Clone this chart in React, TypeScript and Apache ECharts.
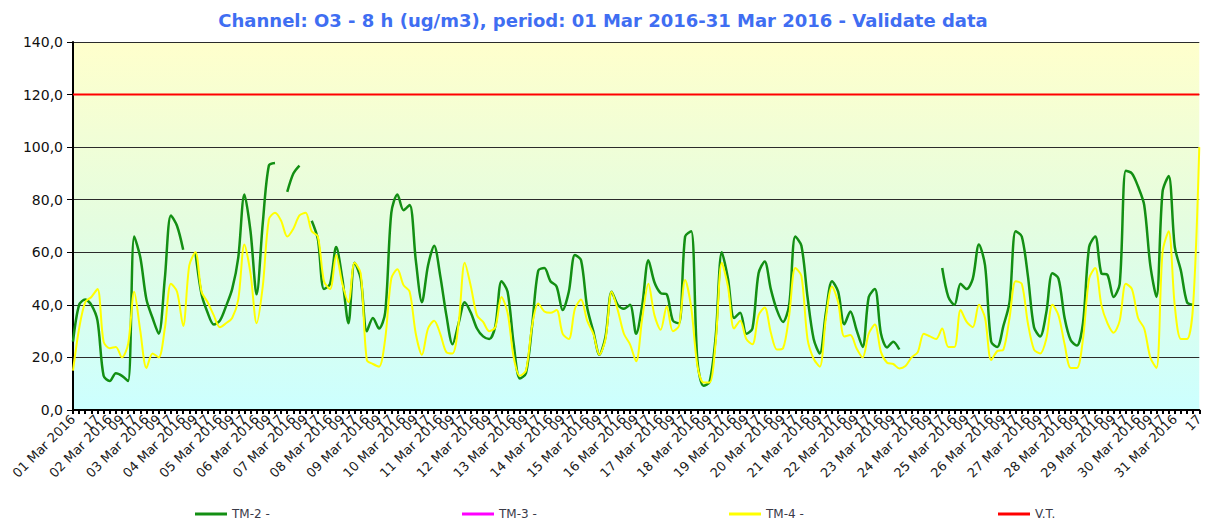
import React, { useEffect, useRef } from "react";
import * as echarts from "echarts";

// Day labels (one per day, every third tick), then the two intra-day hours
const dayNumbers = ["01","02","03","04","05","06","07","08","09","10","11","12","13","14","15","16","17","18","19","20","21","22","23","24","25","26","27","28","29","30","31"];
const monthYear = "Mar 2016";
const hourLabels = ["09", "17"];

// y axis ticks
const yTicks = [0, 20, 40, 60, 80, 100, 120, 140];

// Values sampled every 4 hours (two samples per 8h tick slot), starting at the first tick
const tm2Values: (number | null)[] = [
  26, 40, 42, 40, 34, 13, 11, 14, 13, 11,
  66, 58, 42, 35, 29, 50, 74, 70, 61, null,
  60, 44, 37, 32.5, 34, 39.5, 46, 58, 82, 68,
  44, 71, 93, 94, null, 83, 90, 93, null, 72,
  65, 46, 48, 62, 50, 33, 56, 50, 30, 35,
  31, 37, 75, 82, 76, 78, 57, 41, 55, 62.5,
  51, 36, 25, 33, 41, 37, 31, 28, 27, 32,
  49, 45, 25, 12, 14, 32, 53, 54, 49, 47,
  38, 45, 59, 57, 39, 30, 21, 28, 45, 40,
  38.5, 40, 29, 40, 57, 48.5, 44.5, 44, 34, 33,
  66, 68, 19, 9.2, 10.7, 28, 60, 50, 35, 37,
  29, 31, 52, 56.5, 46, 38, 33.5, 40, 66, 62.5,
  43, 27, 21.5, 37, 49, 45, 32.6, 37.5, 30.5, 24,
  43, 46, 29, 23.8, 26, 23, null, null, null, null,
  null, null, 54, 43, 40, 48, 46, 50, 63, 55,
  26, 24, 32, 41, 68, 66, 51, 31.5, 28, 37,
  52, 50, 35, 26.5, 24.5, 33, 62, 66, 52, 51.4,
  43, 48, 91, 90, 85, 78, 55, 43, 83, 89,
  62, 53, 41, 40, null,
];

const tm3Values: (number | null)[] = [];

const tm4Values: (number | null)[] = [
  15, 31, 41, 43, 46, 26, 23.5, 24, 20, 25,
  45, 30, 16, 21.5, 20, 31, 48, 45, 32, 55,
  60, 45, 41, 36, 31.5, 33, 35, 42, 63, 52,
  33, 47, 72.5, 75, 72, 66, 69, 74, 75, 68,
  66, 49, 46, 59, 48, 41, 56, 52, 19, 17.5,
  16.5, 27, 50, 53.5, 47.5, 45, 29, 21, 31, 34,
  29, 22, 21.5, 33, 56, 47, 36, 33.5, 30, 31.5,
  43, 37, 20, 13, 15, 32, 40.5, 37.5, 37, 38,
  29, 27, 38.5, 42, 34, 29, 21, 27, 45, 38,
  29, 25, 18.5, 35, 48, 36, 30.5, 39.5, 30, 32,
  49.5, 39, 17, 10.5, 10.5, 26, 56, 47, 31, 34,
  27, 25, 36, 39, 29.5, 23, 23.5, 36, 54, 51,
  27, 19.5, 16.5, 35, 47, 41, 28, 28.5, 23.5, 20,
  29, 32.5, 22, 18, 17.5, 15.8, 16.7, 20, 22, 29,
  28, 27, 31, 24, 24, 38, 33.5, 31.5, 40, 35,
  19, 22.4, 23, 35, 49, 48, 33, 23, 21.5, 27,
  40, 36, 25, 16, 16, 27, 50, 54, 40, 33,
  29.4, 34, 48, 46, 35, 31, 20, 16, 60, 68,
  39.5, 27, 27, 40, 100,
];

const limitValues = [120];

const seriesNames = ["TM-2 -", "TM-3 -", "TM-4 -", "V.T."];
const seriesColors = ["#138f13", "#ff00ff", "#ffff00", "#ff0000"];

const STEP = 0.5; // each sample is half a tick slot (4 h)
const SLOTS = dayNumbers.length * 3 - 1; // 92

function toPairs(vals: (number | null)[]) {
  return vals.map((v, i) => [i * STEP, v]);
}

export default function App() {
  const ref = useRef<HTMLDivElement>(null);
  useEffect(() => {
    if (!ref.current) return;
    const chart = echarts.init(ref.current, undefined, { renderer: "svg" });
    const font = "DejaVu Sans";
    const legendBase = {
      top: 503,
      icon: "rect",
      itemWidth: 32,
      itemHeight: 3,
      textStyle: { fontSize: 12, color: "#3a3a48", fontFamily: font },
      selectedMode: false,
    };
    chart.setOption({
      animation: false,
      backgroundColor: "#ffffff",
      title: {
        text: "Channel: O3 - 8 h (ug/m3), period: 01 Mar 2016-31 Mar 2016 - Validate data",
        left: "center",
        top: 6,
        textStyle: { color: "#3f6ef2", fontSize: 18, fontWeight: "bold", fontFamily: font },
      },
      legend: [
        { ...legendBase, left: 190, data: [seriesNames[0]] },
        { ...legendBase, left: 457, data: [seriesNames[1]] },
        { ...legendBase, left: 724, data: [seriesNames[2]] },
        { ...legendBase, left: 993, data: [seriesNames[3]] },
      ],
      grid: {
        left: 73,
        right: 3,
        top: 42,
        bottom: 114,
        show: true,
        borderWidth: 0,
        backgroundColor: new echarts.graphic.LinearGradient(0, 0, 0, 1, [
          { offset: 0, color: "#ffffcc" },
          { offset: 0.5, color: "#e4fde0" },
          { offset: 1, color: "#ccffff" },
        ]),
      },
      xAxis: {
        type: "value",
        min: 0,
        max: SLOTS,
        interval: 1,
        axisLine: { show: true, lineStyle: { color: "#000", width: 2 } },
        axisTick: { show: true, length: 4, lineStyle: { color: "#000", width: 2 } },
        minorTick: { show: true, splitNumber: 2, length: 4, lineStyle: { color: "#000", width: 2 } },
        splitLine: { show: false },
        axisLabel: {
          rotate: 45,
          margin: 7,
          fontSize: 13,
          color: "#1a1a1a",
          fontFamily: font,
          showMinLabel: true,
          showMaxLabel: true,
          hideOverlap: false,
          formatter: (v: number) => {
            const k = Math.round(v);
            if (Math.abs(v - k) > 1e-6) return "";
            const d = Math.floor(k / 3);
            const r = k % 3;
            if (r === 0) return `${dayNumbers[d]} ${monthYear}`;
            return hourLabels[r - 1];
          },
        },
      },
      yAxis: {
        type: "value",
        min: yTicks[0],
        max: yTicks[yTicks.length - 1],
        interval: yTicks[1] - yTicks[0],
        axisLine: { show: true, lineStyle: { color: "#000", width: 2 } },
        axisTick: { show: true, length: 6, lineStyle: { color: "#000", width: 1 } },
        splitLine: { show: true, lineStyle: { color: "#2b2b2b", width: 1 } },
        axisLabel: {
          margin: 10,
          fontSize: 14,
          color: "#111",
          fontFamily: font,
          formatter: (v: number) => v.toFixed(1).replace(".", ","),
        },
      },
      series: [
        {
          name: seriesNames[0],
          type: "line",
          data: toPairs(tm2Values),
          color: seriesColors[0],
          showSymbol: false,
          smooth: 0.3,
          connectNulls: false,
          lineStyle: { width: 2.5, color: seriesColors[0] },
          silent: true,
        },
        {
          name: seriesNames[1],
          type: "line",
          data: toPairs(tm3Values),
          color: seriesColors[1],
          showSymbol: false,
          lineStyle: { width: 2.5, color: seriesColors[1] },
          silent: true,
        },
        {
          name: seriesNames[2],
          type: "line",
          data: toPairs(tm4Values),
          color: seriesColors[2],
          showSymbol: false,
          smooth: 0.3,
          connectNulls: false,
          lineStyle: { width: 2, color: seriesColors[2] },
          silent: true,
        },
        {
          name: seriesNames[3],
          type: "line",
          data: [[0, limitValues[0]], [SLOTS, limitValues[0]]],
          color: seriesColors[3],
          showSymbol: false,
          lineStyle: { width: 2, color: seriesColors[3] },
          silent: true,
        },
      ],
    });
    return () => chart.dispose();
  }, []);
  return (
    <div
      ref={ref}
      style={{ position: "fixed", left: 0, top: 0, width: 1206, height: 524, background: "#fff" }}
    />
  );
}
